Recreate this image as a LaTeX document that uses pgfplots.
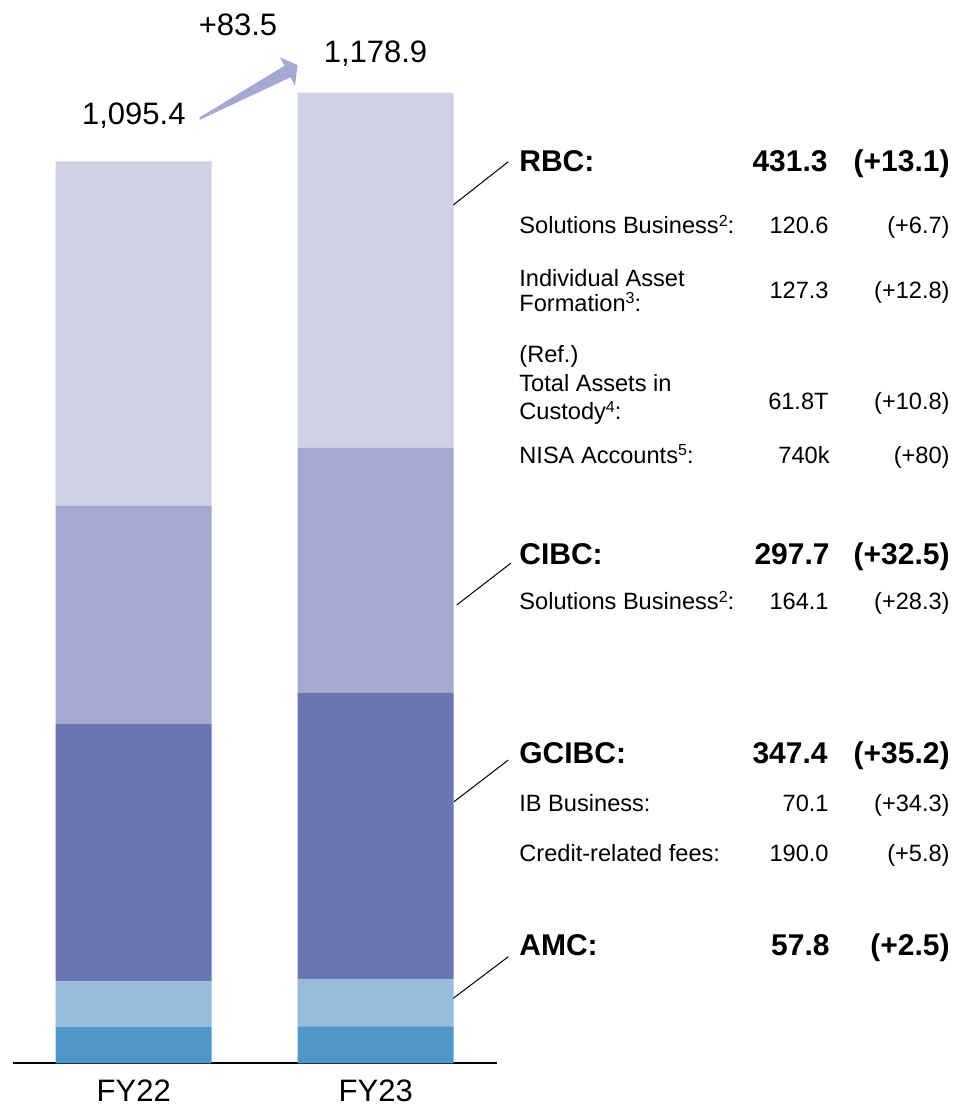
\documentclass[border=0pt]{standalone}
\usepackage{fontspec}
\setmainfont{Liberation Sans}
\usepackage{pgfplots}
\pgfplotsset{compat=1.18}
\definecolor{cRBC}{RGB}{208,209,230}
\definecolor{cCIBC}{RGB}{164,169,208}
\definecolor{cGCIBC}{RGB}{106,118,178}
\definecolor{cAMC}{RGB}{150,188,217}
\definecolor{cOther}{RGB}{79,150,201}
\definecolor{cArrow}{RGB}{164,169,211}
\newcommand{\bigf}{\fontsize{15.5}{18}\selectfont}
\newcommand{\boldf}{\fontsize{15}{18}\selectfont\bfseries}
\newcommand{\smallf}{\fontsize{11.8}{14}\selectfont}
\newcommand{\sups}[1]{\raisebox{0.33em}{\fontsize{8}{9}\selectfont #1}}
\begin{document}
\begin{tikzpicture}
\begin{axis}[
  at={(6.35pt,20.85pt)}, anchor=south west,
  scale only axis, width=242pt, height=514.56pt,
  xmin=-0.5, xmax=1.5, ymin=0, ymax=1250,
  ybar stacked, bar width=78pt,
  axis x line=bottom, axis y line=none,
  x axis line style={line width=1pt, -},
  xtick={0,1}, xticklabels={FY22,FY23}, major tick length=0pt,
  xticklabel style={font=\bigf, anchor=base, yshift=-18.9pt, inner sep=0pt},
  ytick=\empty,
  clip=false,
]
\addplot[fill=cOther, draw=none] coordinates {(0,44.5) (1,44.7)};
\addplot[fill=cAMC, draw=none] coordinates {(0,55.3) (1,57.8)};
\addplot[fill=cGCIBC, draw=none] coordinates {(0,312.2) (1,347.4)};
\addplot[fill=cCIBC, draw=none] coordinates {(0,265.2) (1,297.7)};
\addplot[fill=cRBC, draw=none] coordinates {(0,418.2) (1,431.3)};
\end{axis}
\begin{scope}[x=0.5pt, y=-0.5pt, yshift=552.5pt]
  % growth arrow
  \fill[cArrow] (199.5,117.5) -- (284.5,65.7) -- (280,57.3) -- (297.5,65) -- (295,86) -- (290.5,77.3) -- (199.5,120) -- cycle;
  \node[anchor=base, inner sep=0pt, font=\bigf] at (238,35.7) {+83.5};
  \node[anchor=base, inner sep=0pt, font=\bigf] at (375.5,62.7) {1,178.9};
  \node[anchor=base, inner sep=0pt, font=\bigf] at (133.8,124.3) {1,095.4};
  % connectors
  \draw[line width=0.5pt] (453.3,205) -- (508.3,161.7);
  \draw[line width=0.5pt] (456.7,605) -- (510.7,563.3);
  \draw[line width=0.5pt] (454,801.7) -- (508.3,760);
  \draw[line width=0.5pt] (453.3,998.3) -- (508.3,956.7);
  % RBC
  \node[anchor=base west, inner sep=0pt, font=\boldf] at (519,171.7) {RBC:};
  \node[anchor=base east, inner sep=0pt, font=\boldf] at (828,171.7) {431.3};
  \node[anchor=base east, inner sep=0pt, font=\boldf] at (950,171.7) {(+13.1)};
  \node[anchor=base west, inner sep=0pt, font=\smallf] at (519,234) {Solutions Business\sups{2}:};
  \node[anchor=base east, inner sep=0pt, font=\smallf] at (829,234) {120.6};
  \node[anchor=base east, inner sep=0pt, font=\smallf] at (950,234) {(+6.7)};
  \node[anchor=base west, inner sep=0pt, font=\smallf] at (519,286.7) {Individual Asset};
  \node[anchor=base west, inner sep=0pt, font=\smallf] at (519,311.7) {Formation\sups{3}:};
  \node[anchor=base east, inner sep=0pt, font=\smallf] at (829,299) {127.3};
  \node[anchor=base east, inner sep=0pt, font=\smallf] at (950,299) {(+12.8)};
  \node[anchor=base west, inner sep=0pt, font=\smallf] at (519,363) {(Ref.)};
  \node[anchor=base west, inner sep=0pt, font=\smallf] at (519,391.7) {Total Assets in};
  \node[anchor=base west, inner sep=0pt, font=\smallf] at (519,420) {Custody\sups{4}:};
  \node[anchor=base east, inner sep=0pt, font=\smallf] at (829,410) {61.8T};
  \node[anchor=base east, inner sep=0pt, font=\smallf] at (950,410) {(+10.8)};
  \node[anchor=base west, inner sep=0pt, font=\smallf] at (519,463.3) {NISA Accounts\sups{5}:};
  \node[anchor=base east, inner sep=0pt, font=\smallf] at (830,463.3) {740k};
  \node[anchor=base east, inner sep=0pt, font=\smallf] at (950,463.3) {(+80)};
  % CIBC
  \node[anchor=base west, inner sep=0pt, font=\boldf] at (519,564.3) {CIBC:};
  \node[anchor=base east, inner sep=0pt, font=\boldf] at (830,564.3) {297.7};
  \node[anchor=base east, inner sep=0pt, font=\boldf] at (950,564.3) {(+32.5)};
  \node[anchor=base west, inner sep=0pt, font=\smallf] at (519,610) {Solutions Business\sups{2}:};
  \node[anchor=base east, inner sep=0pt, font=\smallf] at (829,610) {164.1};
  \node[anchor=base east, inner sep=0pt, font=\smallf] at (950,610) {(+28.3)};
  % GCIBC
  \node[anchor=base west, inner sep=0pt, font=\boldf] at (519,763.3) {GCIBC:};
  \node[anchor=base east, inner sep=0pt, font=\boldf] at (828,763.3) {347.4};
  \node[anchor=base east, inner sep=0pt, font=\boldf] at (950,763.3) {(+35.2)};
  \node[anchor=base west, inner sep=0pt, font=\smallf] at (519,811.7) {IB Business:};
  \node[anchor=base east, inner sep=0pt, font=\smallf] at (829,811.7) {70.1};
  \node[anchor=base east, inner sep=0pt, font=\smallf] at (950,811.7) {(+34.3)};
  \node[anchor=base west, inner sep=0pt, font=\smallf] at (519,861.7) {Credit-related fees:};
  \node[anchor=base east, inner sep=0pt, font=\smallf] at (829,861.7) {190.0};
  \node[anchor=base east, inner sep=0pt, font=\smallf] at (950,861.7) {(+5.8)};
  % AMC
  \node[anchor=base west, inner sep=0pt, font=\boldf] at (519,956) {AMC:};
  \node[anchor=base east, inner sep=0pt, font=\boldf] at (830,956) {57.8};
  \node[anchor=base east, inner sep=0pt, font=\boldf] at (950,956) {(+2.5)};
\end{scope}
\pgfresetboundingbox
\path[use as bounding box] (0,0) rectangle (477.5pt,552.5pt);
\end{tikzpicture}
\end{document}
